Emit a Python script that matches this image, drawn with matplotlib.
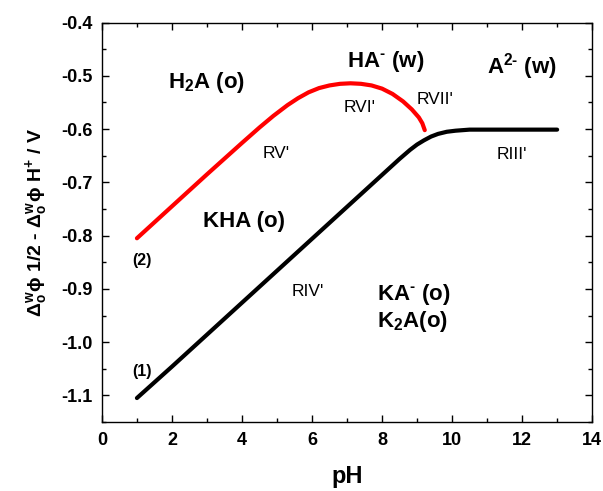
import matplotlib
matplotlib.use("Agg")
import matplotlib.pyplot as plt
from matplotlib.ticker import MultipleLocator, FormatStrFormatter

plt.rcParams['font.family'] = ['Liberation Sans', 'DejaVu Sans']
plt.rcParams['mathtext.fontset'] = 'custom'
plt.rcParams['mathtext.rm'] = 'Liberation Sans:bold'
plt.rcParams['mathtext.it'] = 'Liberation Sans:bold'
plt.rcParams['mathtext.bf'] = 'Liberation Sans:bold'

# Curva (1) - preta
ph_1 = [1.0, 2.0, 3.0, 4.0, 5.0, 6.0, 7.0, 8.0, 8.5, 8.8, 9.0, 9.2, 9.4, 9.6, 9.85, 10.1, 10.5, 11.0, 12.0, 13.0]
e_1 = [-1.105, -1.046, -0.986, -0.926, -0.866, -0.806, -0.746, -0.686, -0.656, -0.639, -0.629, -0.621, -0.614, -0.609, -0.605, -0.603, -0.601, -0.601, -0.601, -0.601]

# Curva (2) - vermelha
ph_2 = [1.0, 2.0, 3.0, 4.0, 4.5, 4.9, 5.3, 5.6, 5.9, 6.2, 6.5, 6.8, 7.1, 7.4, 7.7, 8.0, 8.3, 8.6, 8.85, 9.05, 9.15, 9.22]
e_2 = [-0.805, -0.745, -0.685, -0.626, -0.597, -0.575, -0.555, -0.542, -0.531, -0.523, -0.518, -0.515, -0.514, -0.515, -0.518, -0.524, -0.534, -0.548, -0.563, -0.578, -0.589, -0.602]

fig = plt.figure(figsize=(6.03, 4.91), dpi=100)
ax = fig.add_axes([0.169, 0.1405, 0.813, 0.8135])

ax.plot(ph_1, e_1, color='black', linewidth=3.0, solid_capstyle='round')
ax.plot(ph_2, e_2, color='red', linewidth=3.0, solid_capstyle='round')

ax.set_xlim(0, 14)
ax.set_ylim(-1.15, -0.4)
ax.xaxis.set_major_locator(MultipleLocator(2))
ax.xaxis.set_minor_locator(MultipleLocator(1))
ax.yaxis.set_major_locator(MultipleLocator(0.1))
ax.yaxis.set_minor_locator(MultipleLocator(0.05))
ax.yaxis.set_major_formatter(FormatStrFormatter('%.1f'))
ax.tick_params(which='both', direction='in', top=True, right=True, width=1.0)
ax.tick_params(which='major', length=5, labelsize=13, pad=7)
ax.tick_params(which='minor', length=3)
for lab in ax.get_xticklabels() + ax.get_yticklabels():
    lab.set_fontweight('bold')
for s in ax.spines.values():
    s.set_linewidth(1.0)

ax.set_xlabel('pH', fontsize=17, fontweight='bold', labelpad=12)
ax.set_ylabel(r'$\Delta^{w}_{o}\phi$ 1/2 - $\Delta^{w}_{o}\phi$ H$^{+}$ / V',
              fontsize=14, fontweight='bold', labelpad=8)

# Rótulos das regiões
big = dict(fontsize=16, fontweight='bold', va='center', ha='left')
ax.text(1.9, -0.513, r'H$_2$A (o)', **big)
ax.text(7.0, -0.474, r'HA$^{\text{-}}$ (w)', **big)
ax.text(11.0, -0.483, r'A$^{\text{2-}}$ (w)', **big)
ax.text(2.9, -0.774, 'KHA (o)', **big)
ax.text(7.85, -0.911, r'KA$^{\text{-}}$ (o)', **big)
ax.text(7.85, -0.961, r'K$_2$A(o)', **big)

small = dict(fontsize=12.5, va='center', ha='center')
ax.text(7.37, -0.56, "RVI'", **small)
ax.text(9.5, -0.545, "RVII'", **small)
ax.text(4.97, -0.645, "RV'", **small)
ax.text(11.7, -0.648, "RIII'", **small)
ax.text(5.87, -0.905, "RIV'", **small)

ax.text(1.14, -0.846, '(2)', fontsize=11.5, fontweight='bold', ha='center', va='center')
ax.text(1.14, -1.055, '(1)', fontsize=11.5, fontweight='bold', ha='center', va='center')

fig.savefig('out.png', dpi=100)
